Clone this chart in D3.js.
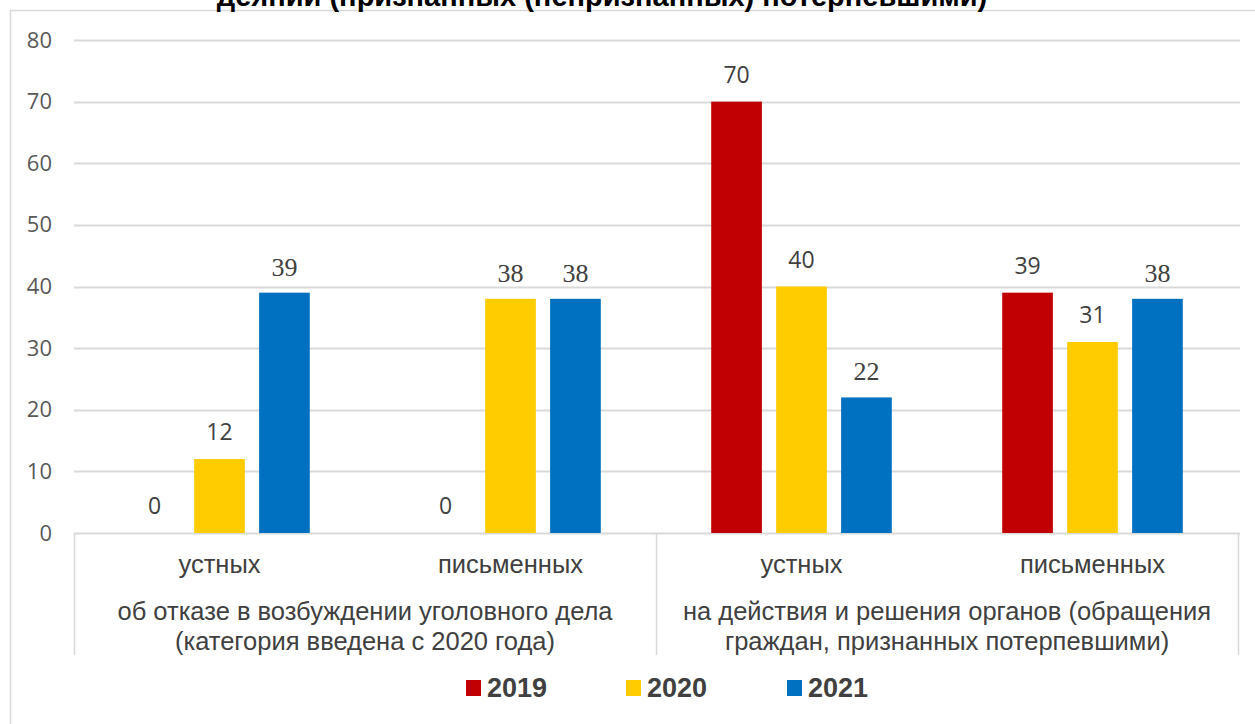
<!DOCTYPE html>
<html><head><meta charset="utf-8">
<script src="https://cdn.jsdelivr.net/npm/d3@7"></script>
<style>body{margin:0;background:#fff;}svg{display:block;}</style>
</head><body>
<svg id="c" width="1255" height="724"></svg>
<script>
const title = "деяний (признанных (непризнанных) потерпевшими)";
const subCategories = ["устных","письменных","устных","письменных"];
const groups = [
  ["об отказе в возбуждении уголовного дела","(категория введена с 2020 года)"],
  ["на действия и решения органов (обращения","граждан, признанных потерпевшими)"]
];
const series = ["2019","2020","2021"];
const values2019 = [0, 0, 70, 39];
const values2020 = [12, 38, 40, 31];
const values2021 = [39, 38, 22, 38];
const yTicks = [0,10,20,30,40,50,60,70,80];
const colors = ["#C00000","#FFCC00","#0070C0"];
// labels rendered in serif in the reference (series index, category index)
const serifLabels = [[2,0],[1,1],[2,1],[2,2],[2,3]];

const svg = d3.select("#c");
const L = 74, R = 1238, T = 40, B = 533;
const SANS = "'Open Sans', 'Liberation Sans', sans-serif";
const ARIAL = "'Liberation Sans', Arial, sans-serif";
const SERIF = "'Liberation Serif', 'DejaVu Serif', 'Times New Roman', serif";

// outer chart border
svg.append("rect").attr("x",10.5).attr("y",10.5).attr("width",1300).attr("height",800)
  .attr("fill","none").attr("stroke","#d9d9d9").attr("stroke-width",1.5);

svg.append("text").attr("x",602).attr("y",6).attr("text-anchor","middle")
  .attr("font-family",ARIAL).attr("font-weight","bold")
  .attr("font-size",29).attr("fill","#000").text(title);

const y = d3.scaleLinear().domain([0,80]).range([B,T]);
const x0 = d3.scaleBand().domain(d3.range(subCategories.length)).range([L,R]).paddingInner(0).paddingOuter(0);
const x1 = d3.scaleBand().domain(series).range([0,x0.bandwidth()]).paddingInner(0.22).paddingOuter(0.85);

// gridlines
svg.append("g").selectAll("line").data(yTicks).join("line")
  .attr("x1",L).attr("x2",R+2).attr("y1",d=>Math.round(y(d))+0.5).attr("y2",d=>Math.round(y(d))+0.5)
  .attr("stroke","#d9d9d9").attr("stroke-width",2);

// y axis labels
const yAxis = d3.axisLeft(y).tickValues(yTicks).tickSize(0).tickPadding(22);
const ga = svg.append("g").attr("transform",`translate(${L},0)`).call(yAxis);
ga.select(".domain").remove();
ga.selectAll("text").attr("font-family",SANS).attr("font-size",22).attr("fill","#595959");

const data = [values2019, values2020, values2021];
const gBars = svg.append("g");
series.forEach((s,si)=>{
  data[si].forEach((v,ci)=>{
    const bx = x0(ci)+x1(s);
    if (v>0) gBars.append("rect").attr("x",bx).attr("y",y(v)).attr("width",x1.bandwidth()).attr("height",B-y(v)).attr("fill",colors[si]);
    const serif = serifLabels.some(p=>p[0]===si&&p[1]===ci);
    gBars.append("text").attr("x",bx+x1.bandwidth()/2).attr("y",y(v)-(serif?17:19))
      .attr("text-anchor","middle")
      .style("font-family", serif ? SERIF : SANS)
      .attr("font-size", serif?26:23).attr("fill","#404040").text(v);
  });
});

// category axis area
const sep = [L, (L+R)/2, R];
svg.append("g").selectAll("line").data(sep).join("line")
  .attr("x1",d=>Math.round(d)+0.5).attr("x2",d=>Math.round(d)+0.5).attr("y1",B).attr("y2",655)
  .attr("stroke","#d9d9d9").attr("stroke-width",1.5);

svg.append("g").selectAll("text").data(subCategories).join("text")
  .attr("x",(d,i)=>x0(i)+x0.bandwidth()/2).attr("y",573).attr("text-anchor","middle")
  .attr("font-family",ARIAL).attr("font-size",25.5).attr("fill","#404040").text(d=>d);

groups.forEach((g,gi)=>{
  const cx = (sep[gi]+sep[gi+1])/2;
  g.forEach((line,li)=>{
    svg.append("text").attr("x",cx).attr("y",620+li*30).attr("text-anchor","middle")
      .attr("font-family",ARIAL).attr("font-size",25.5).attr("fill","#404040").text(line);
  });
});

// legend
const legX = [466, 626, 787];
series.forEach((s,i)=>{
  svg.append("rect").attr("x",legX[i]).attr("y",680).attr("width",15).attr("height",16).attr("fill",colors[i]);
  svg.append("text").attr("x",legX[i]+21).attr("y",697).attr("font-family",ARIAL)
    .attr("font-weight","bold").attr("font-size",27).attr("fill","#404040").text(s);
});
</script>
</body></html>
